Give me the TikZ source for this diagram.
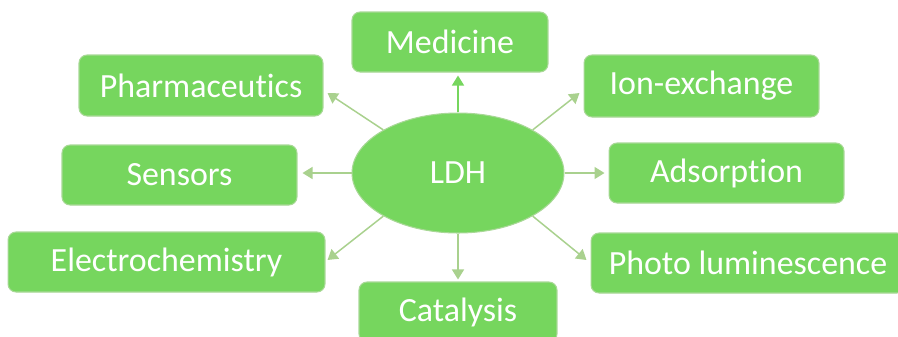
\documentclass[tikz,border=0pt]{standalone}
\usepackage{fontspec}
\setmainfont{Carlito}[Ligatures=NoCommon]
\usepackage{tikz}
\usetikzlibrary{shapes.geometric, arrows.meta, positioning, calc}
\definecolor{ldhgreen}{RGB}{118,214,94}
\definecolor{ldhedge}{RGB}{168,216,150}
\definecolor{ldharrow}{RGB}{169,209,142}

\begin{document}
\begin{tikzpicture}[
        x=0.02cm, y=-0.02cm,
        app/.style={rectangle, rounded corners=0.16cm, draw=ldhedge, line width=0.6pt, fill=ldhgreen, text=white, minimum height=1.2cm, inner sep=0pt, font=\fontsize{19.3}{23}\selectfont},
        hub/.style={ellipse, draw=ldhedge, line width=0.6pt, fill=ldhgreen, text=white, minimum width=4.24cm, minimum height=2.4cm, inner sep=0pt, font=\fontsize{19.3}{23}\selectfont},
        arrowline/.style={-{Triangle[length=0.2cm, width=0.24cm]}, line width=0.03cm, draw=ldharrow}
    ]
        \useasboundingbox (0,0) rectangle (898,336);
        \clip (0,0) rectangle (898,336);
        \node[hub] (ldh) at (458,173) {LDH};
        \node[app, minimum width=3.92cm] (med) at (450,42) {Medicine};
        \node[app, minimum width=4.88cm, minimum height=1.22cm] (pharm) at (201,85.5) {Pharmaceutics};
        \node[app, minimum width=4.7cm, minimum height=1.24cm] (ion) at (701.5,86) {Ion-exchange};
        \node[app, minimum width=4.7cm] (sens) at (179.5,175) {Sensors};
        \node[app, minimum width=4.7cm] (ads) at (726.5,173) {Adsorption};
        \node[app, minimum width=6.34cm] (elec) at (166.5,262) {Electrochemistry};
        \node[app, minimum width=6.28cm] (photo) at (748,263) {Photo luminescence};
        \node[app, minimum width=3.96cm] (cat) at (458,312) {Catalysis};
        % arrows out of the hub
        \draw[arrowline, draw=ldhgreen] (ldh.north) -- ($(ldh.north |- med.south)+(0,3)$);
        \draw[arrowline] (ldh.south) -- ($(ldh.south |- cat.north)+(0,-2)$);
        \draw[arrowline] (ldh.west) -- ($(ldh.west -| sens.east)+(5,0)$);
        \draw[arrowline] (ldh.east) -- ($(ldh.east -| ads.west)+(-4,0)$);
        \draw[arrowline] (ldh.150) -- ($(pharm.east)+(4,7.5)$);
        \draw[arrowline] (ldh.30) -- ($(ion.west)+(-4,7)$);
        \draw[arrowline] (ldh.210) -- ($(elec.east)+(2,-2)$);
        \draw[arrowline] (ldh.330) -- ($(photo.west)+(-4,-3)$);
    \end{tikzpicture}
\end{document}
